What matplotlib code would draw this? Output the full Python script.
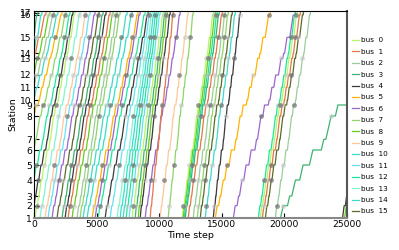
import matplotlib
matplotlib.use("Agg")
import matplotlib.pyplot as plt
import numpy as np

stations = list(range(1, 18))
station_pos = [0, 12.6, 22.3, 38.3, 53.3, 68.3, 79.0, 102.3, 113.3, 118.3,
               131.0, 143.3, 160.0, 165.0, 181.0, 203.3, 205.6]
# relative dwell weight at each station (1..17)
dwell_w = [0, 1.0, 0.5, 1.0, 1.5, 2.0, 0.5, 1.0, 2.0, 0.5, 1.0, 1.5, 1.0, 0.5, 1.5, 1.0, 0]

bus_colors = ['#b5f56a', '#e07848', '#9ccc9c', '#3cb371', '#3a3a3a', '#ffb300',
              '#9a66cc', '#8fd46a', '#66cc1a', '#ffc799', '#33e0c8', '#66e0f0',
              '#1ee69a', '#80f5d0', '#40d8c8', '#5a6b2a']
bus_labels = ['bus  %d' % i for i in range(16)]

# trips: bus id, start station, end station, start time, end time, dwell share
trip_bus = [15, 3, 10, 1, 8, 2, 14, 5, 7, 12, 4,
            0, 13, 9, 11, 6, 15, 3, 4, 1, 8, 2, 7, 14, 10, 5, 6, 12, 4, 11,
            13, 10, 14, 12, 11, 0, 3, 8, 4, 6, 1, 7, 9,
            0, 8, 12, 3, 1, 2, 7, 15, 14, 4, 5, 6,
            12, 0, 1, 15, 2, 3, 4, 8, 15]
trip_s0 = [16, 15, 14, 13, 12, 11, 10, 8, 6, 4, 2,
           1, 1, 1, 1, 1, 1, 1, 1, 1, 1, 1, 1, 1, 1, 1, 1, 1, 1, 1,
           1, 1, 1, 1, 1, 1, 1, 1, 1, 1, 1, 1, 1,
           1, 1, 1, 1, 1, 1, 1, 1, 1, 1, 1, 1,
           1, 1, 1, 1, 1, 1, 1, 1, 1]
trip_s1 = [17] * 60 + [10, 5, 5, 5]
trip_t0 = [0, 0, 0, 0, 0, 0, 0, 0, 0, 0, 0,
           80, 480, 880, 1120, 1440, 1840, 2240, 2480, 2720, 3040, 3440, 3680,
           3920, 4240, 4640, 4880, 5120, 5680, 6080,
           6640, 6880, 7120, 7360, 7600, 7840, 8080, 8320, 8480, 8880, 9280,
           10720, 10080,
           11840, 11920, 12000, 12080, 12320, 12720, 13040, 13280, 13680,
           14320, 14480, 15920,
           17920, 18080, 18240, 18480, 19280, 19680, 24640, 24800, 24960]
trip_t1 = [80, 320, 640, 960, 1280, 1600, 1920, 2240, 2560, 2880, 3120,
           3280, 3680, 4160, 4480, 4880, 5200, 5520, 5760, 6080, 6320, 6640,
           6880, 7440, 7840, 8320, 8480, 8880, 9120, 9280,
           9440, 9600, 9760, 9920, 10080, 10320, 10480, 10640, 10880, 11680,
           11120, 12720, 12320,
           14320, 14480, 14640, 14800, 15040, 15280, 15520, 15840, 16080,
           16480, 18880, 20880,
           20880, 21040, 21280, 21520, 22080, 25040, 25440, 25680, 25760]
trip_dwell = [0.3] * 11 + [0.35] * 32 + [0.35] * 10 + [0.45, 0.5] + [0.35] * 5 + [0.6, 0.3, 0.3, 0.3]

# stations where passenger-event dots were seen, cycling over trips
dark_dot_sets = [[9, 16], [5, 15], [4, 12], [2, 9], [13], [5, 16], [8], [4, 15]]
faint_dot_sets = [[4, 12], [2, 9], [15], [5, 13], [2, 8, 16], [12], [4, 13], [9]]

fig = plt.figure(figsize=(3.99, 2.5), dpi=100)
ax = fig.add_axes([34 / 399, 1 - 218.3 / 250, 313 / 399, 207.6 / 250])

dark_x, dark_y, faint_x, faint_y = [], [], [], []
for n, (b, s0, s1, t0, t1, f) in enumerate(zip(trip_bus, trip_s0, trip_s1, trip_t0, trip_t1, trip_dwell)):
    i0, i1 = s0 - 1, s1 - 1
    T = t1 - t0
    D = station_pos[i1] - station_pos[i0]
    W = sum(dwell_w[k] for k in range(i0 + 1, i1))
    run = T * (1 - f) if W > 0 else T
    dw = T * f if W > 0 else 0
    xs, ys = [t0], [station_pos[i0]]
    t = t0
    dset = dark_dot_sets[n % len(dark_dot_sets)]
    fset = faint_dot_sets[n % len(faint_dot_sets)]
    for k in range(i0 + 1, i1 + 1):
        t += run * (station_pos[k] - station_pos[k - 1]) / D
        xs.append(t); ys.append(station_pos[k])
        if stations[k] in dset:
            dark_x.append(t); dark_y.append(station_pos[k])
        elif stations[k] in fset:
            faint_x.append(t); faint_y.append(station_pos[k])
        if k < i1 and W > 0:
            t += dw * dwell_w[k] / W
            xs.append(t); ys.append(station_pos[k])
    ax.plot(xs, ys, color=bus_colors[b], lw=0.9, solid_joinstyle='miter')

ax.scatter(faint_x, faint_y, s=13, color='#c8c8c8', alpha=0.55, lw=0, zorder=3)
ax.scatter(dark_x, dark_y, s=12, color='#707070', alpha=0.7, lw=0, zorder=3)

for b in range(16):
    ax.plot([], [], color=bus_colors[b], lw=0.9, label=bus_labels[b])

ax.set_xlim(0, 25000)
ax.set_ylim(0, 207.6)
ax.set_xticks([0, 5000, 10000, 15000, 20000, 25000])
ax.set_yticks(station_pos)
ax.set_yticklabels([str(s) for s in stations])
ax.tick_params(direction='in', length=3.5, width=0.8, labelsize=6.6, pad=1.5)
ax.set_xlabel('Time step', fontsize=6.8, labelpad=1.5)
ax.set_ylabel('Station', fontsize=6.8, labelpad=2)
ax.spines['bottom'].set_color('#888888')
ax.spines['bottom'].set_linewidth(1.5)
ax.spines['right'].set_color('#555555')
ax.spines['right'].set_linewidth(1.5)

leg = ax.legend(loc='center left', bbox_to_anchor=(1.015, 0.445), frameon=False,
                borderaxespad=0, borderpad=0, handlelength=1.0, handletextpad=0.3,
                labelspacing=0.74, fontsize=5.2)

fig.savefig('out.png', dpi=100)
